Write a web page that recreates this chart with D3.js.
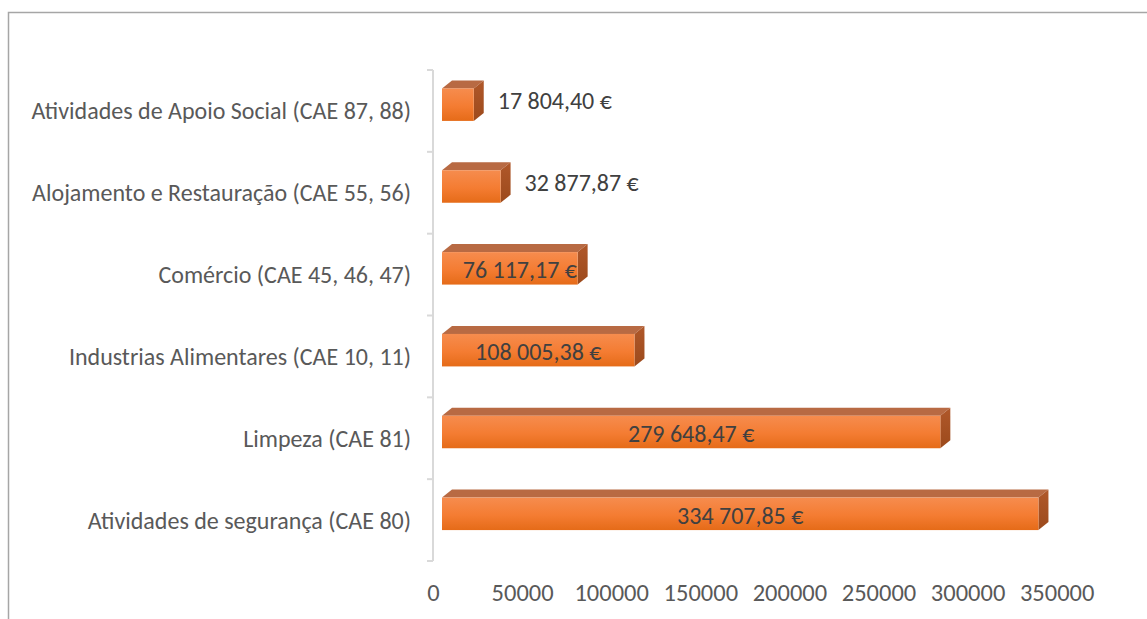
<!DOCTYPE html>
<html>
<head>
<meta charset="utf-8">
<script src="https://cdn.jsdelivr.net/npm/d3@7"></script>
<style>
  html, body { margin: 0; padding: 0; background: #ffffff; }
  svg { display: block; }
  text { font-family: Carlito, Lato, "Open Sans", sans-serif; }
</style>
</head>
<body>
<svg id="chart" width="1147" height="619"></svg>
<script>
const categories = [
  "Atividades de Apoio Social (CAE 87, 88)",
  "Alojamento e Restauração (CAE 55, 56)",
  "Comércio (CAE 45, 46, 47)",
  "Industrias Alimentares (CAE 10, 11)",
  "Limpeza (CAE 81)",
  "Atividades de segurança (CAE 80)"
];
const values = [17804.40, 32877.87, 76117.17, 108005.38, 279648.47, 334707.85];
const valueLabels = ["17 804,40 €", "32 877,87 €", "76 117,17 €", "108 005,38 €", "279 648,47 €", "334 707,85 €"];
const tickValues = [0, 50000, 100000, 150000, 200000, 250000, 300000, 350000];
const insideLabel = [false, false, true, true, true, true];

const svg = d3.select("#chart");
const defs = svg.append("defs");
const gFront = defs.append("linearGradient").attr("id", "front").attr("x1", 0).attr("y1", 0).attr("x2", 0).attr("y2", 1);
gFront.append("stop").attr("offset", "0%").attr("stop-color", "#f68c4e");
gFront.append("stop").attr("offset", "55%").attr("stop-color", "#f47c32");
gFront.append("stop").attr("offset", "100%").attr("stop-color", "#e56b18");
const gSide = defs.append("linearGradient").attr("id", "side").attr("x1", 0).attr("y1", 0).attr("x2", 0).attr("y2", 1);
gSide.append("stop").attr("offset", "0%").attr("stop-color", "#b0582a");
gSide.append("stop").attr("offset", "100%").attr("stop-color", "#9c4a1c");

// outer border (extends past right and bottom edges)
svg.append("path")
  .attr("d", "M8.5,619 L8.5,12.5 L1147,12.5")
  .attr("fill", "none").attr("stroke", "#a6a6a6").attr("stroke-width", 1.5);

const x = d3.scaleLinear().domain([0, 350000]).range([433, 1056.7]);
const y = d3.scaleBand().domain(categories).range([70, 561]).paddingInner(0).paddingOuter(0);

const dx = 10, dy = 8, offX = 9;

// category axis
const yAxisG = svg.append("g").attr("transform", "translate(433,0)");
yAxisG.append("line").attr("x1", 0).attr("x2", 0).attr("y1", 70).attr("y2", 561)
  .attr("stroke", "#d9d9d9").attr("stroke-width", 2);
const boundaries = d3.range(categories.length + 1).map(i => 70 + i * y.bandwidth());
yAxisG.selectAll("line.tk").data(boundaries).join("line").attr("class", "tk")
  .attr("x1", -6).attr("x2", 0).attr("y1", d => d).attr("y2", d => d)
  .attr("stroke", "#d9d9d9").attr("stroke-width", 2);

// category labels
svg.append("g").selectAll("text").data(categories).join("text")
  .attr("x", 411)
  .attr("y", d => y(d) + y.bandwidth() / 2)
  .attr("text-anchor", "end")
  .attr("dominant-baseline", "central")
  .attr("font-size", 24)
  .attr("fill", "#595959")
  .text(d => d);

// x tick labels
const xAxis = d3.axisBottom(x).tickValues(tickValues).tickSize(0).tickFormat(d3.format("d"));
const xg = svg.append("g").attr("transform", "translate(0,580)").call(xAxis);
xg.select(".domain").remove();
xg.selectAll("text").attr("font-size", 24.5).attr("fill", "#595959")
  .attr("font-family", "Carlito, Lato, 'Open Sans', sans-serif")
  .attr("dy", "0.35em").attr("y", 12);

// bars
const bars = svg.append("g").selectAll("g").data(values).join("g");
bars.each(function(v, i) {
  const g = d3.select(this);
  const c = y(categories[i]) + y.bandwidth() / 2;
  const x0 = x(0) + offX, x1 = x(v) + offX;
  const ft = c - 22.5, fb = c + 10;
  g.append("path")
    .attr("d", `M${x0},${ft} L${x1},${ft} L${x1 + dx},${ft - dy} L${x0 + dx},${ft - dy} Z`)
    .attr("fill", "#b86a43");
  g.append("path")
    .attr("d", `M${x1},${ft} L${x1 + dx},${ft - dy} L${x1 + dx},${fb - dy} L${x1},${fb} Z`)
    .attr("fill", "url(#side)");
  g.append("rect").attr("x", x0).attr("y", ft).attr("width", x1 - x0).attr("height", fb - ft)
    .attr("fill", "url(#front)");
  if (insideLabel[i]) {
    g.append("text")
      .attr("x", (x0 + x1) / 2 + (i === 2 ? 10 : 0))
      .attr("y", c - 5)
      .attr("text-anchor", "middle")
      .attr("dominant-baseline", "central")
      .attr("font-size", 24)
      .attr("fill", "#404040")
      .text(valueLabels[i]);
  } else {
    g.append("text")
      .attr("x", x1 + dx + 14)
      .attr("y", c - 10)
      .attr("text-anchor", "start")
      .attr("dominant-baseline", "central")
      .attr("font-size", 24)
      .attr("fill", "#404040")
      .text(valueLabels[i]);
  }
});
</script>
</body>
</html>
